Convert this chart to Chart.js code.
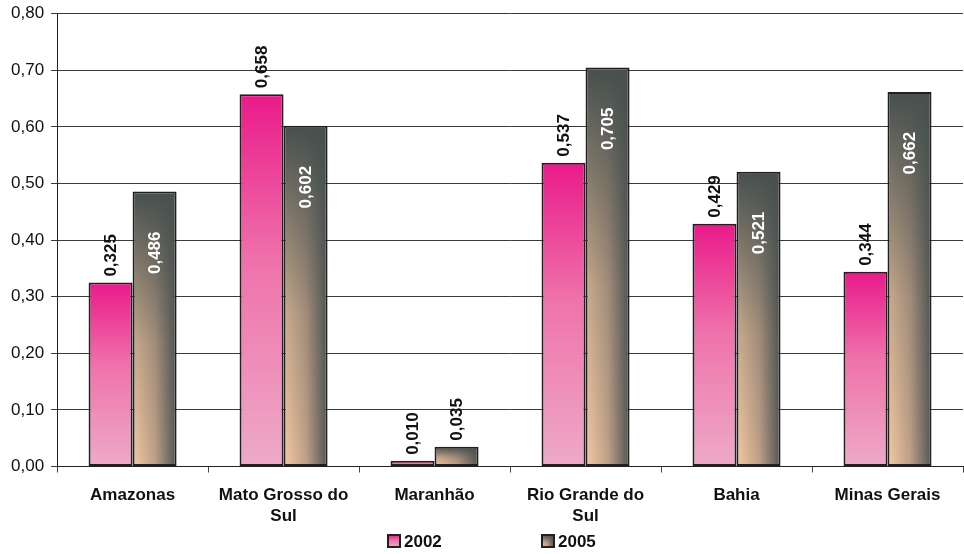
<!DOCTYPE html>
<html>
<head>
<meta charset="utf-8">
<script src="https://cdn.jsdelivr.net/npm/chart.js@4/dist/chart.umd.min.js"></script>
<style>
html,body{margin:0;padding:0;background:#fff}
#wrap{width:964px;height:554px}
</style>
</head>
<body>
<div id="wrap"><canvas id="chart"></canvas></div>
<script>
// data
const categories = ['Amazonas', ['Mato Grosso do', 'Sul'], 'Maranhão', ['Rio Grande do', 'Sul'], 'Bahia', 'Minas Gerais'];
const seriesNames = ['2002', '2005'];
const values2002 = [0.325, 0.658, 0.010, 0.537, 0.429, 0.344];
const values2005 = [0.486, 0.602, 0.035, 0.705, 0.521, 0.662];
const yMin = 0, yMax = 0.8, yStep = 0.1;

const FONT = '"Liberation Sans", Arial, sans-serif';
const CAT_PCT = 0.583;

function fmt(v, d){ return v.toFixed(d).replace('.', ','); }

// pink: vertical gradient per bar
function pinkFill(c, top, bottom){
    const g = c.createLinearGradient(0, top, 0, bottom);
    g.addColorStop(0, '#ea1a8a');
    g.addColorStop(0.45, '#ef72ab');
    g.addColorStop(1, '#eeaac8');
    return g;
}

// grey/peach: horizontal + darkening towards the top
function greyFill(c, left, top, w, h){
    const cv = document.createElement('canvas');
    cv.width = Math.max(1, Math.ceil(w));
    cv.height = Math.max(1, Math.ceil(h));
    const g = cv.getContext('2d');
    const hg = g.createLinearGradient(0, 0, cv.width, 0);
    hg.addColorStop(0, '#f4caa2');
    hg.addColorStop(0.5, '#c0a088');
    hg.addColorStop(0.85, '#6e6a62');
    hg.addColorStop(1, '#4c504c');
    g.fillStyle = hg;
    g.fillRect(0, 0, cv.width, cv.height);
    const vg = g.createLinearGradient(0, 0, 0, cv.height);
    vg.addColorStop(0, 'rgba(70,80,78,1)');
    vg.addColorStop(0.55, 'rgba(70,80,78,0.25)');
    vg.addColorStop(1, 'rgba(70,80,78,0)');
    g.fillStyle = vg;
    g.fillRect(0, 0, cv.width, cv.height);
    const p = c.createPattern(cv, 'no-repeat');
    p.setTransform(new DOMMatrix([1, 0, 0, 1, left, top]));
    return p;
}

function barFill(ctx){
    const chart = ctx.chart;
    const xs = chart.scales.x, ys = chart.scales.y;
    const fallback = ctx.datasetIndex === 0 ? '#ef72ab' : '#8a7a6c';
    if (ctx.type !== 'data' || !xs || !ys) return fallback;
    const catW = xs.width / categories.length;
    const bw = catW * CAT_PCT / 2;
    const cx = xs.getPixelForValue(ctx.dataIndex);
    const left = cx - bw + ctx.datasetIndex * bw;
    const top = ys.getPixelForValue(ctx.raw);
    const bottom = ys.getPixelForValue(0);
    if (![bw, cx, left, top, bottom].every(Number.isFinite) || bw <= 0 || bottom - top <= 0) return fallback;
    if (ctx.datasetIndex === 0) return pinkFill(chart.ctx, top, bottom);
    return greyFill(chart.ctx, left, top, bw, bottom - top);
}

const valueLabels = {
    id: 'valueLabels',
    afterDatasetsDraw(chart){
        const c = chart.ctx;
        c.save();
        c.font = 'bold 17px ' + FONT;
        c.textBaseline = 'middle';
        chart.data.datasets.forEach((ds, di) => {
            chart.getDatasetMeta(di).data.forEach((bar, i) => {
                const txt = fmt(ds.data[i], 3);
                const tw = c.measureText(txt).width;
                const h = bar.base - bar.y;
                c.save();
                c.translate(bar.x, 0);
                c.rotate(-Math.PI / 2);
                if (di === 1 && h > tw + 50) {
                    c.fillStyle = '#ffffff';
                    c.textAlign = 'right';
                    c.fillText(txt, -(bar.y + 40), 1);
                } else {
                    c.fillStyle = '#111111';
                    c.textAlign = 'left';
                    c.fillText(txt, -(bar.y - 6), 1);
                }
                c.restore();
            });
        });
        c.restore();
    }
};

const bottomLegend = {
    id: 'bottomLegend',
    afterDraw(chart){
        const c = chart.ctx;
        const cy = chart.height - 13;
        const starts = [chart.width / 2 - 94, chart.width / 2 + 60];
        c.save();
        c.font = 'bold 17px ' + FONT;
        c.textBaseline = 'middle';
        c.textAlign = 'left';
        chart.data.datasets.forEach((ds, di) => {
            const bx = starts[di], by = cy - 6;
            c.fillStyle = di === 0 ? pinkFill(c, by, by + 12) : greyFill(c, bx, by, 12, 12);
            c.fillRect(bx, by, 12, 12);
            c.lineWidth = 2;
            c.strokeStyle = '#231f20';
            c.strokeRect(bx, by, 12, 12);
            c.fillStyle = '#111111';
            c.fillText(ds.label, bx + 16, cy + 1);
        });
        c.restore();
    }
};

new Chart(document.getElementById('chart').getContext('2d'), {
    type: 'bar',
    data: {
        labels: categories,
        datasets: [
            {label: seriesNames[0], data: values2002, backgroundColor: barFill, borderColor: '#231f20', borderWidth: 2, borderSkipped: false, categoryPercentage: CAT_PCT, barPercentage: 1},
            {label: seriesNames[1], data: values2005, backgroundColor: barFill, borderColor: '#231f20', borderWidth: 2, borderSkipped: false, categoryPercentage: CAT_PCT, barPercentage: 1}
        ]
    },
    options: {
        responsive: true,
        maintainAspectRatio: false,
        animation: false,
        layout: {padding: {left: 4, right: 1, top: 8, bottom: 15}},
        plugins: {legend: {display: false}, tooltip: {enabled: false}},
        scales: {
            x: {
                grid: {drawOnChartArea: false, tickLength: 6, color: '#444'},
                border: {color: '#222', width: 1},
                ticks: {color: '#111', padding: 12, font: {family: FONT, size: 17, weight: 'bold', lineHeight: 1.25}, maxRotation: 0, autoSkip: false}
            },
            y: {
                min: yMin, max: yMax,
                grid: {color: '#3a3a3a', tickLength: 6},
                border: {color: '#222', width: 1},
                ticks: {stepSize: yStep, color: '#111', padding: 7, font: {family: FONT, size: 17, lineHeight: 0.8}, callback: v => fmt(v, 2)}
            }
        }
    },
    plugins: [valueLabels, bottomLegend]
});
</script>
</body>
</html>
